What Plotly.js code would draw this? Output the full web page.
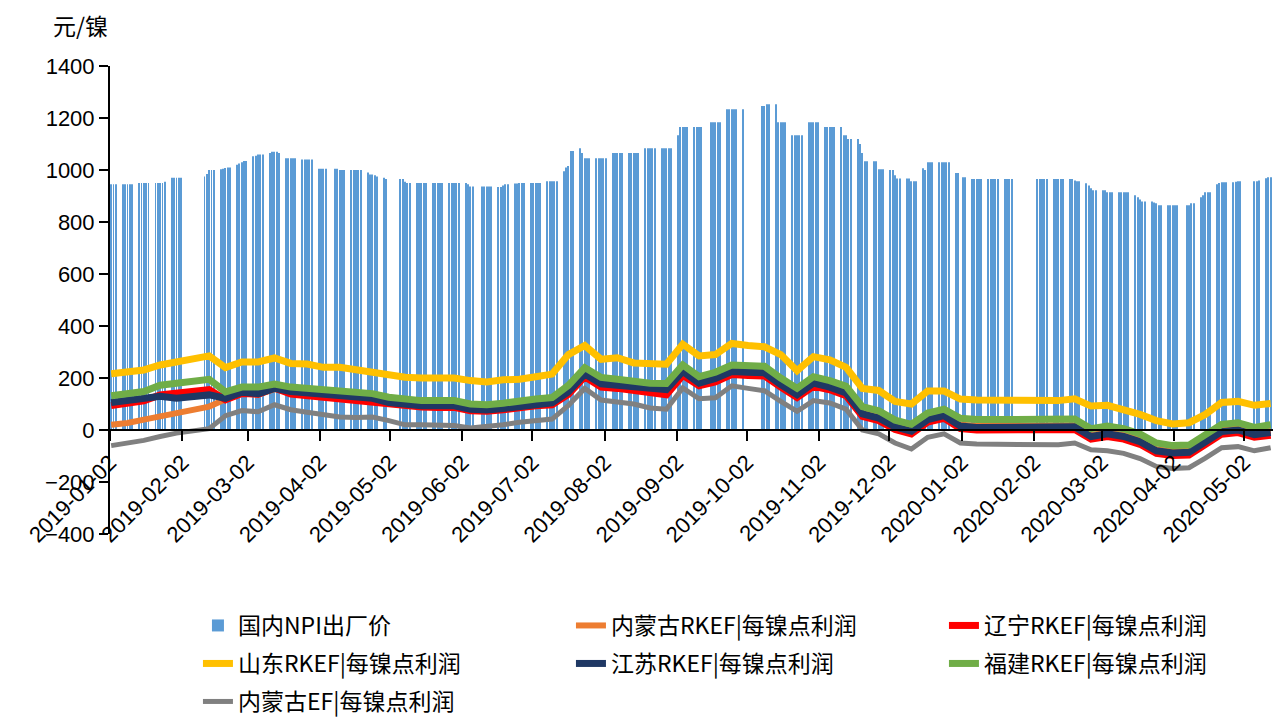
<!DOCTYPE html>
<html>
<head>
<meta charset="utf-8">
<script src="https://cdn.plot.ly/plotly-3.0.1.min.js"></script>
<style>
html,body{margin:0;padding:0;background:#ffffff;}
#chart{width:1273px;height:721px;}
</style>
</head>
<body>
<div id="chart"></div>
<script>
// ---- data (weekly readings; week = Monday date) ----
const weekStarts = [
'2018-12-31','2019-01-07','2019-01-14','2019-01-21','2019-01-28',
'2019-02-11','2019-02-18','2019-02-25','2019-03-04','2019-03-11','2019-03-18','2019-03-25',
'2019-04-01','2019-04-08','2019-04-15','2019-04-22','2019-04-29',
'2019-05-06','2019-05-13','2019-05-20','2019-05-27',
'2019-06-03','2019-06-10','2019-06-17','2019-06-24',
'2019-07-01','2019-07-08','2019-07-15','2019-07-22','2019-07-29',
'2019-08-05','2019-08-12','2019-08-19','2019-08-26',
'2019-09-02','2019-09-09','2019-09-16','2019-09-23','2019-09-30',
'2019-10-07','2019-10-14','2019-10-21','2019-10-28',
'2019-11-04','2019-11-11','2019-11-18','2019-11-25',
'2019-12-02','2019-12-09','2019-12-16','2019-12-23','2019-12-30',
'2020-01-06','2020-01-13','2020-01-20',
'2020-02-03','2020-02-10','2020-02-17','2020-02-24',
'2020-03-02','2020-03-09','2020-03-16','2020-03-23','2020-03-30',
'2020-04-06','2020-04-13','2020-04-20','2020-04-27',
'2020-05-04','2020-05-11'];

const holidays = ['2019-02-04','2019-02-05','2019-02-06','2019-02-07','2019-02-08','2019-04-05',
'2019-05-01','2019-05-02','2019-05-03','2019-06-07','2019-09-13','2019-10-01','2019-10-02',
'2019-10-03','2019-10-04','2019-10-07','2020-01-01','2020-01-24','2020-04-06','2020-05-01',
'2020-05-04','2020-05-05'];
const dataStart = '2019-01-02';
const dataEnd = '2020-05-13';

// 国内NPI出厂价 (a number = whole week, a list = each trading day of the week)
const npiPrice = [945,945,950,[950,950,950,950,955],970,
[975,985,1000,1000,1000],[1003,1005,1008,1010,1010],[1020,1025,1030,1035,1035],[1053,1055,1060,1060,1060],[1065,1070,1070,1070,1065],1045,1040,
1005,[1005,1005,1000,1000,1000],1000,[990,983,983,980,975],[970,965],
[965,965,955,950,950],950,950,950,
[950,945,937,937],937,[935,935,940,945,945],[948,948,950,950,950],
950,957,[995,1010,1015,1073,1073],[1084,1065,1045,1045,1045],1045,
1065,1065,1084,1084,
[1134,1165,1165,1165,1165],1165,1184,1234,1234,
[1246,1246,1253,1253],[1253,1184,1184,1184,1184],1134,1184,
1165,[1165,1134,1134,1119,1119],[1119,1100,1065,1034,1034],[1034,1034,1003,1003,1003],
[1000,1000,980,967,967],[967,967,957,957,957],[1007,1000,1030,1030,1030],1030,[988,988,972,972],
965,965,965,
965,965,[965,965,960,957,957],[949,940,930,922,922],
[922,922,914,914,914],914,[903,895,887,879,879],[879,875,872,864,864],864,
[864,864,872,872],[895,903,914,914,914],[945,950,953,953,953],[953,955,957,957],
[957,957,960],[968,972,972]];

const neimengRKEF = [20,27,40,52,65,
90,118,140,136,157,143,138,
134,128,122,116,102,
95,90,90,90,
77,75,81,90,
96,101,145,215,178,
173,163,158,156,
228,182,200,228,225,
223,178,138,183,
168,146,67,52,
17,0,45,60,20,
16,16,16,
16,14,18,-19,
-9,-19,-39,-74,-82,
-80,-39,0,6,
-12,-4];

const liaoningRKEF = [94,100,112,135,142,
155,116,140,138,162,138,132,
128,118,113,110,104,
92,88,87,87,
74,72,78,87,
93,97,137,205,165,
160,150,143,135,
210,170,185,213,210,
208,165,125,168,
155,132,52,36,
2,-15,30,45,5,
0,0,0,
0,-2,2,-35,
-25,-35,-55,-90,-98,
-96,-55,-16,-10,
-28,-20];

const shandongRKEF = [216,222,231,250,262,
285,240,262,262,277,256,254,
241,241,232,222,216,
203,200,200,200,
190,185,193,195,
205,215,290,325,272,
278,258,255,253,
330,285,290,333,325,
320,290,228,282,
270,241,160,152,
110,100,150,150,119,
115,115,116,
113,113,120,92,
95,80,60,36,23,
28,60,106,110,
95,102];

const jiangsuRKEF = [106,112,122,130,122,
135,122,145,140,160,148,142,
138,135,128,122,106,
98,93,93,93,
80,77,83,92,
98,104,147,215,178,
172,162,157,155,
225,180,198,225,222,
220,175,135,180,
165,142,62,46,
12,-5,40,55,15,
10,10,10,
10,8,12,-25,
-15,-25,-45,-80,-88,
-86,-45,-6,0,
-18,-10];

const fujianRKEF = [132,140,148,172,180,
195,147,165,165,177,165,160,
157,155,148,140,126,
118,113,113,113,
100,97,103,113,
119,125,172,240,202,
195,185,180,179,
250,205,222,250,248,
245,200,160,205,
190,168,90,74,
38,22,65,80,45,
40,40,40,
38,36,42,5,
15,5,-15,-50,-60,
-58,-15,22,28,
10,20];

const neimengEF = [-60,-52,-40,-25,-12,
5,55,75,70,97,78,68,
60,50,48,50,36,
20,20,18,17,
8,12,20,30,
36,42,95,160,115,
106,100,85,80,
162,120,124,170,160,
151,110,72,113,
104,80,0,-15,
-50,-73,-28,-15,-50,
-54,-54,-54,
-55,-57,-50,-76,
-80,-90,-110,-140,-148,
-145,-108,-68,-64,
-80,-68];

const tickDates = ['2019-01-02','2019-02-02','2019-03-02','2019-04-02','2019-05-02','2019-06-02',
'2019-07-02','2019-08-02','2019-09-02','2019-10-02','2019-11-02','2019-12-02',
'2020-01-02','2020-02-02','2020-03-02','2020-04-02','2020-05-02'];

const seriesNames = ['国内NPI出厂价','内蒙古RKEF|每镍点利润','辽宁RKEF|每镍点利润','山东RKEF|每镍点利润',
'江苏RKEF|每镍点利润','福建RKEF|每镍点利润','内蒙古EF|每镍点利润'];

// ---- build traces ----
function addDays(s, n){
  const d = new Date(s + 'T00:00:00Z');
  d.setUTCDate(d.getUTCDate() + n);
  return d.toISOString().slice(0,10);
}
const holidaySet = new Set(holidays);
function tradingDays(monday){
  const out = [];
  for(let k=0;k<5;k++){
    const d = addDays(monday,k);
    if(d < dataStart || d > dataEnd || holidaySet.has(d)) continue;
    out.push(d);
  }
  return out;
}
const barX = [], barY = [];
weekStarts.forEach((w,i)=>{
  const days = tradingDays(w);
  const v = npiPrice[i];
  days.forEach((d,k)=>{
    barX.push(d + ' 12:00');
    barY.push(Array.isArray(v) ? v[Math.min(k, v.length-1)] : v);
  });
});
const lineX = weekStarts.map(w => addDays(w,2) + ' 12:00');

// [values, colour, width, legend row]
const lineSeries = [
  [neimengRKEF, '#ED7D31', 6, 'legend'],
  [liaoningRKEF, '#FF0000', 7, 'legend'],
  [shandongRKEF, '#FFC000', 7, 'legend2'],
  [jiangsuRKEF, '#1F3864', 7, 'legend2'],
  [fujianRKEF, '#70AD47', 7, 'legend2'],
  [neimengEF, '#808080', 5, 'legend3']
];

const traces = [{
  type:'bar', x: barX, y: barY, name: seriesNames[0], legend:'legend',
  marker:{color:'#5B9BD5', line:{width:0}},
  width: 0.42*86400000, hoverinfo:'x+y'
}];
lineSeries.forEach((s,i)=>{
  traces.push({
    type:'scatter', mode:'lines', x: lineX, y: s[0], name: seriesNames[i+1],
    legend: s[3],
    line:{color:s[1], width:s[2], shape:'linear'}
  });
});

const fontLatin = 'Liberation Sans, Arial, sans-serif';
const fontCJK = 'Noto Sans CJK SC, sans-serif';

function legendRow(topPx){
  return {
    orientation:'h', xref:'container', yref:'container',
    x:0.1555, y:1-topPx/721, xanchor:'left', yanchor:'top',
    font:{family:fontCJK, size:23, color:'#000000'},
    entrywidth:328, entrywidthmode:'pixels',
    traceorder:'normal', bgcolor:'rgba(0,0,0,0)'
  };
}

const layout = {
  width:1273, height:721,
  paper_bgcolor:'#ffffff', plot_bgcolor:'#ffffff',
  margin:{l:110, r:0, t:66, b:187},
  showlegend:true,
  xaxis:{
    type:'date', range:['2019-01-02','2020-05-14 12:00'],
    anchor:'free', position: 400/1800,
    showline:true, linecolor:'#000000', linewidth:2,
    ticks:'outside', ticklen:10, tickwidth:1.5, tickcolor:'#000000',
    tickmode:'array', tickvals: tickDates, ticktext: tickDates,
    tickangle:-45, tickfont:{family:fontLatin, size:22, color:'#000000'},
    showgrid:false, zeroline:false
  },
  yaxis:{
    range:[-400,1400], tickmode:'linear', tick0:0, dtick:200,
    showline:true, linecolor:'#000000', linewidth:2,
    ticks:'outside', ticklen:9, tickwidth:1.5, tickcolor:'#000000',
    tickfont:{family:fontLatin, size:22, color:'#000000'},
    showgrid:false, zeroline:false
  },
  legend: legendRow(604),
  legend2: legendRow(642),
  legend3: legendRow(680),
  annotations:[{
    text:'元/镍', xref:'paper', yref:'paper', x:(80-110)/1163, y:1+(66-25)/468,
    xanchor:'center', yanchor:'middle', showarrow:false,
    font:{family:fontCJK, size:23, color:'#000000'}
  }]
};

Plotly.newPlot('chart', traces, layout, {displayModeBar:false, responsive:false});
</script>
</body>
</html>
